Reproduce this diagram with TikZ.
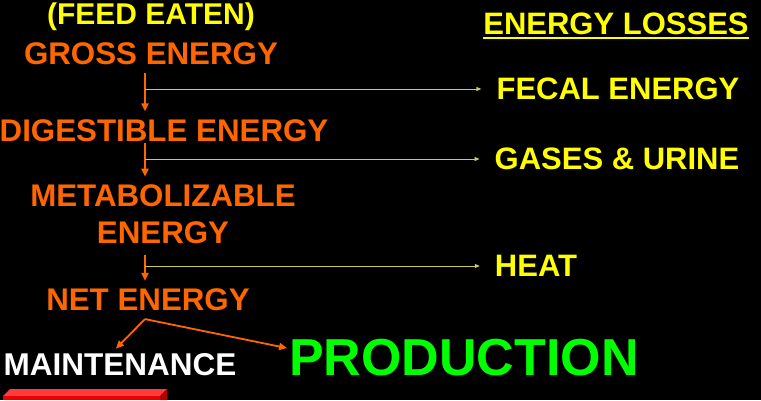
\documentclass[tikz,border=0pt]{standalone}
\usepackage{fontspec}
\setmainfont{Liberation Sans}
\usepackage{tikz}
\usetikzlibrary{arrows.meta, positioning}
\usepackage{xcolor}
\definecolor{stageorange}{RGB}{255,102,0}
\definecolor{lossyellow}{RGB}{255,255,0}
\definecolor{lossline}{RGB}{205,205,80}
\definecolor{prodgreen}{RGB}{0,255,0}
\definecolor{bartop}{RGB}{255,60,60}
\definecolor{barfront}{RGB}{235,0,0}
\definecolor{barside}{RGB}{180,0,0}

\begin{document}
\begin{tikzpicture}[x=1pt,y=-1pt,inner sep=0pt]
  \tikzstyle{stage}=[text=stageorange,font=\fontsize{31.3}{36.5}\selectfont\bfseries,align=center,outer ysep=8pt]
  \tikzstyle{loss}=[text=lossyellow,font=\fontsize{31}{37}\selectfont\bfseries]
  \tikzstyle{flow}=[draw=stageorange,line width=1.8pt,-{Triangle[length=8pt,width=7pt]}]
  \tikzstyle{leak}=[draw=lossline,line width=0.8pt,-{Triangle[length=5pt,width=4pt]},shorten >=15pt]

  \fill[black] (0,0) rectangle (761,400);
  \useasboundingbox (0,0) rectangle (761,400);
  \coordinate (axis) at (145,0);

  \node[loss,font=\fontsize{30}{36}\selectfont\bfseries] (feed) at (151,17) {(FEED EATEN)};
  \node[stage] (gross)  at (151,54)    {GROSS ENERGY};
  \node[stage] (digest) at (164,130.5) {DIGESTIBLE ENERGY};
  \node[stage] (metab)  at (163,214)   {METABOLIZABLE\\ENERGY};
  \node[stage] (net)    at (148,300)   {NET ENERGY};
  \node[text=white,font=\fontsize{31.5}{36}\selectfont\bfseries] (maint) at (120,365) {MAINTENANCE};
  \node[text=prodgreen,font=\fontsize{52}{60}\selectfont\bfseries] (prod) at (464,357.5) {PRODUCTION};

  \node[loss] (losses) at (616,24)  {ENERGY LOSSES};
  \node[loss] (fecal)  at (618,89)  {FECAL ENERGY};
  \node[loss] (gases)  at (617,159) {GASES \& URINE};
  \node[loss] (heat)   at (536,266) {HEAT};
  \draw[lossyellow,line width=2pt] ([yshift=-3pt]losses.south west) -- ([yshift=-3pt]losses.south east);

  \draw[flow] (gross.south -| axis) -- (digest.north -| axis);
  \draw[flow,shorten <=-7pt] (digest.south -| axis) -- (metab.north -| axis);
  \draw[flow,shorten <=4pt] (metab.south -| axis) -- (net.north -| axis);
  \draw[flow,shorten >=7pt] (net.south -| axis) -- ([xshift=-9pt]maint.north);
  \draw[flow,shorten >=2pt] (net.south -| axis) -- ([yshift=9pt]prod.west);

  \draw[leak] (fecal.west -| axis) -- (fecal.west);
  \draw[leak] (gases.west -| axis) -- (gases.west);
  \draw[leak] (heat.west -| axis)  -- (heat.west);

  % red bar under maintenance
  \fill[bartop]   (3,396) -- (10,389) -- (167,389) -- (160,396) -- cycle;
  \fill[barfront] (3,396) -- (160,396) -- (160,400) -- (3,400) -- cycle;
  \fill[barside]  (160,396) -- (167,389) -- (167,400) -- (160,400) -- cycle;
\end{tikzpicture}
\end{document}
